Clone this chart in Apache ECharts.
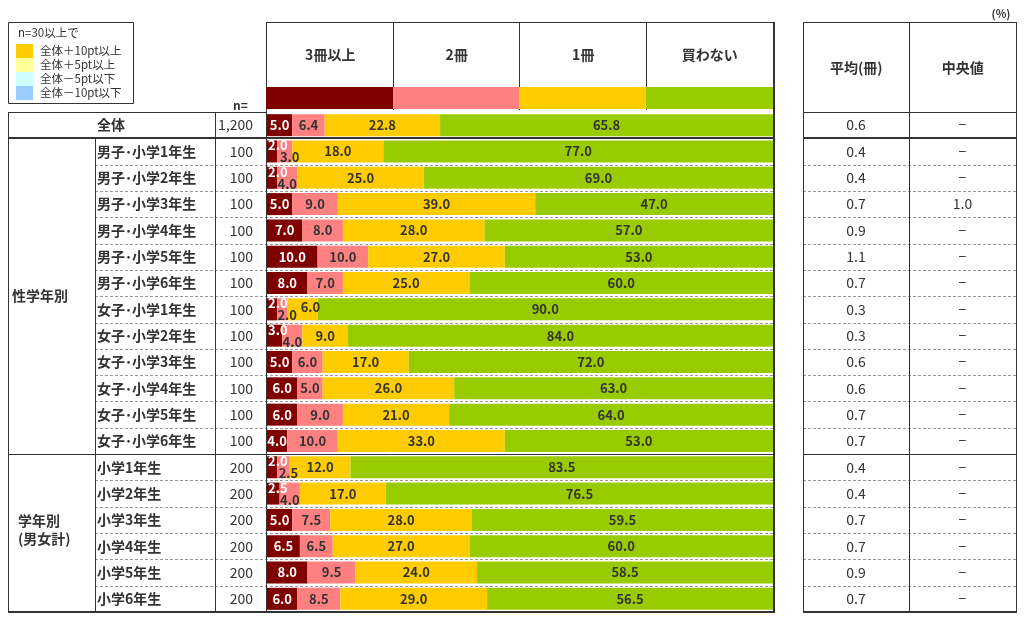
<!DOCTYPE html>
<html>
<head>
<meta charset="utf-8">
<script src="https://cdn.jsdelivr.net/npm/echarts@6/dist/echarts.min.js"></script>
<style>
  html, body { margin: 0; padding: 0; background: #fff; }
  #chart { width: 1025px; height: 622px; }
</style>
</head>
<body>
<div id="chart"></div>
<script>
// 行ラベル
var CATEGORIES = ['全体',
  '男子･小学1年生', '男子･小学2年生', '男子･小学3年生', '男子･小学4年生', '男子･小学5年生', '男子･小学6年生',
  '女子･小学1年生', '女子･小学2年生', '女子･小学3年生', '女子･小学4年生', '女子･小学5年生', '女子･小学6年生',
  '小学1年生', '小学2年生', '小学3年生', '小学4年生', '小学5年生', '小学6年生'];
var N_VALUES = ['1,200', '100', '100', '100', '100', '100', '100', '100', '100', '100', '100', '100', '100',
  '200', '200', '200', '200', '200', '200'];
var GROUPS = ['性学年別', '学年別\n(男女計)'];

// 系列
var SERIES_NAMES = ['3冊以上', '2冊', '1冊', '買わない'];
var V_3PLUS = [5.0, 2.0, 2.0, 5.0, 7.0, 10.0, 8.0, 2.0, 3.0, 5.0, 6.0, 6.0, 4.0, 2.0, 2.5, 5.0, 6.5, 8.0, 6.0];
var V_2 = [6.4, 3.0, 4.0, 9.0, 8.0, 10.0, 7.0, 2.0, 4.0, 6.0, 5.0, 9.0, 10.0, 2.5, 4.0, 7.5, 6.5, 9.5, 8.5];
var V_1 = [22.8, 18.0, 25.0, 39.0, 28.0, 27.0, 25.0, 6.0, 9.0, 17.0, 26.0, 21.0, 33.0, 12.0, 17.0, 28.0, 27.0, 24.0, 29.0];
var V_NONE = [65.8, 77.0, 69.0, 47.0, 57.0, 53.0, 60.0, 90.0, 84.0, 72.0, 63.0, 64.0, 53.0, 83.5, 76.5, 59.5, 60.0, 58.5, 56.5];

// 右表
var AVG = ['0.6', '0.4', '0.4', '0.7', '0.9', '1.1', '0.7', '0.3', '0.3', '0.6', '0.6', '0.7', '0.7',
  '0.4', '0.4', '0.7', '0.7', '0.9', '0.7'];
var MEDIAN = ['−', '−', '−', '1.0', '−', '−', '−', '−', '−', '−', '−', '−', '−',
  '−', '−', '−', '−', '−', '−'];
var RIGHT_HEADERS = ['平均(冊)', '中央値'];

// 凡例
var LEGEND_TITLE = 'n=30以上で';
var LEGEND_LABELS = ['全体＋10pt以上', '全体＋5pt以上', '全体－5pt以下', '全体－10pt以下'];
var LEGEND_COLORS = ['#FFCC00', '#FFFF99', '#CCFFFF', '#99CCFF'];

var COLORS = ['#800000', '#FF8080', '#FFCC00', '#99CC00'];

(function () {
  var FONT = '"Noto Sans CJK JP", "Noto Sans", sans-serif';
  var TXT = '#333';
  var BAR_L = 267, BAR_W = 506, BAR_R = BAR_L + BAR_W;
  var TOP = 112, H = 500, BOTTOM = TOP + H;
  var HEAD_TOP = 22;
  var R_L = 803, R_W = 213, R_R = R_L + R_W, R_MID = 909;
  var NROW = CATEGORIES.length, RH = H / NROW;
  var GROUP_START = [1, 13], GROUP_END = [13, 19];

  function edge(i) { return Math.round(TOP + i * RH); }

  // 細いセグメントのラベルをずらす
  function segData(vals, k) {
    return vals.map(function (v, r) {
      var item = { value: v };
      if (k === 0 && v < 4) {
        item.label = { position: 'insideLeft', offset: [-4, -6] };
      } else if (k === 1 && V_3PLUS[r] < 4) {
        item.label = { offset: [v < 4 ? 5 : 0, 6] };
      } else if (k === 2 && v < 8) {
        item.label = { offset: [8, -2] };
      }
      return item;
    });
  }

  var allVals = [V_3PLUS, V_2, V_1, V_NONE];
  var series = allVals.map(function (vals, k) {
    return {
      name: SERIES_NAMES[k],
      type: 'bar',
      stack: 'total',
      xAxisIndex: 0,
      yAxisIndex: 0,
      barWidth: 22,
      data: segData(vals, k),
      itemStyle: { color: COLORS[k] },
      label: {
        show: true,
        position: 'inside',
        color: k === 0 ? '#fff' : TXT,
        fontSize: 13,
        fontWeight: 'bold',
        fontFamily: FONT,
        formatter: function (p) { return p.value.toFixed(1); }
      },
      emphasis: { disabled: true }
    };
  });

  var hidden = { axisLine: { show: false }, axisTick: { show: false }, splitLine: { show: false } };
  function catY(grid, offset, align, fmt, weight) {
    return Object.assign({
      type: 'category', gridIndex: grid, inverse: true, data: CATEGORIES,
      position: 'left', offset: offset,
      axisLabel: {
        show: fmt !== null, margin: 0, align: align, color: TXT,
        fontSize: 14, fontWeight: weight, fontFamily: FONT,
        formatter: fmt || undefined
      }
    }, hidden);
  }

  // 罫線
  var g = [];
  function hl(y, x1, x2, w, dash) {
    var yy = w === 2 ? y : y + 0.5;
    g.push({ type: 'line', shape: { x1: x1, y1: yy, x2: x2, y2: yy },
      style: { stroke: dash ? '#999' : '#333', lineWidth: w || 1, lineDash: dash ? [3, 2] : null }, z: 0 });
  }
  function vl(x, y1, y2, w) {
    var xx = w === 2 ? x : x + 0.5;
    g.push({ type: 'line', shape: { x1: xx, y1: y1, x2: xx, y2: y2 },
      style: { stroke: '#333', lineWidth: w || 1 }, z: 0 });
  }
  for (var i = 2; i < NROW; i++) {
    if (i === 13) continue;
    hl(edge(i), 95, BAR_R, 1, true);
    hl(edge(i), R_L, R_R, 1, true);
  }
  hl(TOP, 8, BAR_L);
  hl(edge(1), 8, BAR_R + 2, 2);
  hl(edge(13), 8, BAR_R);
  hl(BOTTOM, 8, BAR_R + 2, 2);
  vl(8, TOP, BOTTOM);
  vl(95, edge(1), BOTTOM);
  vl(215, TOP, BOTTOM);
  vl(BAR_L - 1, HEAD_TOP, BOTTOM);
  vl(BAR_R + 1, HEAD_TOP, BOTTOM + 1, 2);
  hl(HEAD_TOP, BAR_L - 1, BAR_R + 2);
  for (var k = 1; k < 4; k++) vl(Math.round(BAR_L + k * BAR_W / 4) - 1, HEAD_TOP, 110);
  // 色見本
  for (k = 0; k < 4; k++) {
    var x0 = Math.round(BAR_L + k * BAR_W / 4) - 1, x1 = Math.round(BAR_L + (k + 1) * BAR_W / 4);
    g.push({ type: 'rect', shape: { x: x0, y: 87, width: x1 - x0, height: 22 }, style: { fill: COLORS[k] }, z: 1 });
  }
  // 右表
  vl(R_L, HEAD_TOP, BOTTOM);
  vl(R_R, HEAD_TOP, BOTTOM);
  vl(R_MID, HEAD_TOP, BOTTOM);
  hl(HEAD_TOP, R_L, R_R + 1);
  hl(TOP, R_L, R_R + 1);
  hl(edge(1), R_L, R_R + 1, 2);
  hl(edge(13), R_L, R_R + 1);
  hl(BOTTOM, R_L, R_R + 1, 2);

  // グループ見出し
  GROUPS.forEach(function (t, j) {
    g.push({ type: 'text', x: j === 0 ? 12 : 18, y: (edge(GROUP_START[j]) + edge(GROUP_END[j])) / 2 - (j === 0 ? 0 : 3),
      style: { text: t, fill: TXT, font: 'bold 14px ' + FONT, verticalAlign: 'middle', lineHeight: 18 }, z: 3 });
  });
  g.push({ type: 'text', x: 233, y: 105, style: { text: 'n=', fill: TXT, font: 'bold 12px ' + FONT, verticalAlign: 'middle' }, z: 3 });
  g.push({ type: 'text', x: 1001, y: 14, style: { text: '(%)', fill: TXT, font: 'bold 11px ' + FONT, align: 'center', verticalAlign: 'middle' }, z: 3 });

  // 凡例ボックス
  g.push({ type: 'rect', shape: { x: 8.5, y: 22.5, width: 125, height: 81 }, style: { fill: '#fff', stroke: '#333', lineWidth: 1 }, z: 1 });
  g.push({ type: 'text', x: 18, y: 33, style: { text: LEGEND_TITLE, fill: TXT, font: '11.5px ' + FONT, verticalAlign: 'middle' }, z: 3 });
  LEGEND_LABELS.forEach(function (t, j) {
    g.push({ type: 'rect', shape: { x: 16, y: 44 + j * 14, width: 17, height: 14 }, style: { fill: LEGEND_COLORS[j] }, z: 2 });
    g.push({ type: 'text', x: 40, y: 51 + j * 14, style: { text: t, fill: TXT, font: '11.5px ' + FONT, verticalAlign: 'middle' }, z: 3 });
  });

  var option = {
    animation: false,
    textStyle: { fontFamily: FONT },
    grid: [
      { left: BAR_L, top: TOP, width: BAR_W, height: H },
      { left: R_L, top: TOP, width: R_W, height: H }
    ],
    xAxis: [
      Object.assign({ type: 'value', gridIndex: 0, min: 0, max: 100, axisLabel: { show: false } }, hidden),
      Object.assign({ type: 'category', gridIndex: 0, position: 'top', offset: TOP - 55, data: SERIES_NAMES,
        axisLabel: { margin: 0, verticalAlign: 'middle', color: TXT, fontSize: 14, fontWeight: 'bold', fontFamily: FONT } }, hidden),
      Object.assign({ type: 'category', gridIndex: 1, position: 'top', offset: TOP - 68, data: RIGHT_HEADERS,
        axisLabel: { margin: 0, verticalAlign: 'middle', color: TXT, fontSize: 14, fontWeight: 'bold', fontFamily: FONT } }, hidden)
    ],
    yAxis: [
      catY(0, 0, 'right', null, 'normal'),
      catY(0, BAR_L - 97, 'left', function (v) { return v; }, 'bold'),
      catY(0, BAR_L - 253, 'right', function (v, i) { return N_VALUES[i]; }, 'normal'),
      catY(1, -(R_MID - R_L) / 2, 'center', function (v, i) { return AVG[i]; }, 'normal'),
      catY(1, -((R_MID + R_R) / 2 - R_L), 'center', function (v, i) { return MEDIAN[i]; }, 'normal')
    ],
    graphic: g,
    series: series
  };

  var myChart = echarts.init(document.getElementById('chart'));
  myChart.setOption(option);
})();
</script>
</body>
</html>
